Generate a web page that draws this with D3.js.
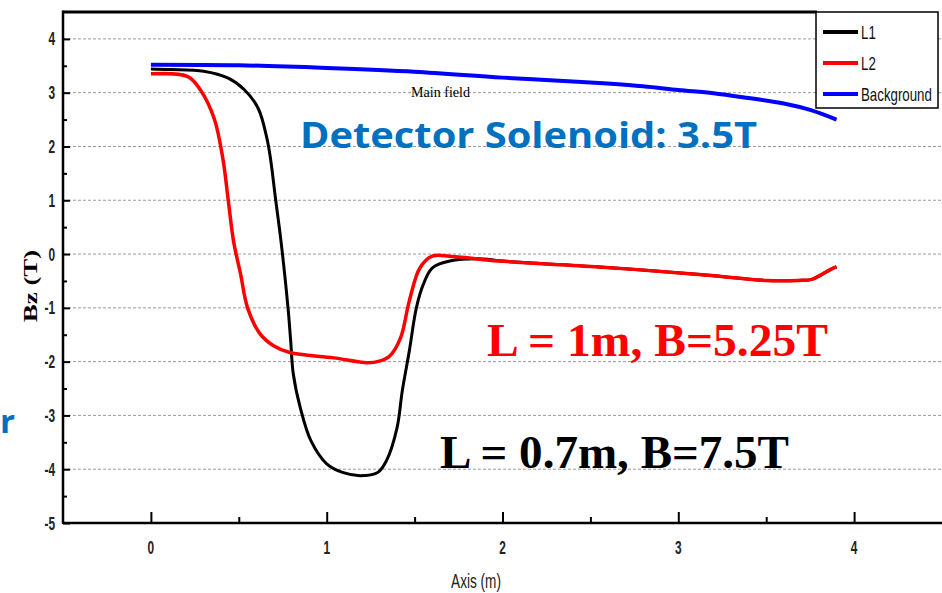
<!DOCTYPE html>
<html>
<head>
<meta charset="utf-8">
<script src="https://cdn.jsdelivr.net/npm/d3@7"></script>
<style>
  html, body { margin: 0; padding: 0; background: #fff; }
  svg { display: block; }
  .grid line { stroke: #9a9a9a; stroke-width: 1; stroke-dasharray: 3,2; }
  .tick-label { font-family: "Liberation Sans", Arial, sans-serif; font-weight: bold; font-size: 18px; fill: #222; }
  .legend-text { font-family: "Liberation Sans", Arial, sans-serif; font-size: 19px; fill: #111; }
</style>
</head>
<body>
<div class="chart-container"></div>
<script>
// Bz along the axis
var l1X = [0, 0.11, 0.30, 0.44, 0.53, 0.61, 0.66, 0.68, 0.71, 0.74, 0.78, 0.795, 0.81, 0.85, 0.91, 1.00, 1.09, 1.19, 1.29, 1.34, 1.40, 1.43, 1.47, 1.51, 1.55, 1.60, 1.70, 1.89, 2.0, 2.55, 3.12, 3.5, 3.68, 3.76, 3.87, 3.9];
var l1Y = [3.44, 3.43, 3.40, 3.27, 3.06, 2.71, 2.15, 1.78, 1.0, 0.24, -1.0, -1.61, -2.23, -2.86, -3.47, -3.90, -4.06, -4.12, -4.06, -3.84, -3.23, -2.54, -1.80, -1.0, -0.56, -0.26, -0.13, -0.09, -0.13, -0.24, -0.38, -0.49, -0.49, -0.47, -0.28, -0.24];

var l2X = [0, 0.21, 0.28, 0.36, 0.41, 0.44, 0.47, 0.51, 0.55, 0.62, 0.70, 0.79, 1.04, 1.23, 1.30, 1.36, 1.42, 1.47, 1.53, 1.60, 1.70, 1.80, 1.98, 2.55, 3.12, 3.5, 3.68, 3.76, 3.87, 3.9];
var l2Y = [3.35, 3.30, 3.06, 2.52, 1.76, 1.0, 0.24, -0.37, -1.0, -1.48, -1.71, -1.83, -1.93, -2.02, -1.99, -1.89, -1.56, -0.87, -0.26, -0.04, -0.04, -0.07, -0.13, -0.24, -0.38, -0.49, -0.49, -0.47, -0.28, -0.24];

var bgX = [0, 0.5, 1.0, 1.5, 2.0, 2.5, 2.8, 3.0, 3.2, 3.4, 3.6, 3.75, 3.9];
var bgY = [3.52, 3.51, 3.46, 3.39, 3.28, 3.19, 3.12, 3.05, 2.99, 2.90, 2.80, 2.68, 2.50];

var seriesNames = ['L1', 'L2', 'Background'];
var seriesColors = ['#000000', '#ff0000', '#0000ff'];

var xTicks = [0, 1, 2, 3, 4];
var xMinorTicks = [0.5, 1.5, 2.5, 3.5];
var yTicks = [-5, -4, -3, -2, -1, 0, 1, 2, 3, 4];
var yMinorTicks = [-4.5, -3.5, -2.5, -1.5, -0.5, 0.5, 1.5, 2.5, 3.5];

var width = 942;
var height = 593;
var plot = { left: 63, right: 942, top: 12, bottom: 523 };
var narrow = 0.66; // squeeze for the condensed labels

var svg = d3.select('.chart-container').append('svg')
  .attr('width', width)
  .attr('height', height);

var x = d3.scaleLinear().domain([-0.5, 4.5]).range([plot.left, plot.right]);
var y = d3.scaleLinear().domain([-5, 4.5]).range([plot.bottom, plot.top]);

// dashed gridlines at every integer except the bottom axis
svg.append('g')
  .attr('class', 'grid')
  .selectAll('line')
  .data(yTicks.filter(function (d) { return d > -5; }))
  .enter()
  .append('line')
    .attr('x1', plot.left)
    .attr('x2', plot.right)
    .attr('y1', function (d) { return y(d); })
    .attr('y2', function (d) { return y(d); });

// curves, drawn black first so red sits on top
function toPoints(xs, ys) {
  return xs.map(function (d, i) { return [d, ys[i]]; });
}
var seriesData = [toPoints(l1X, l1Y), toPoints(l2X, l2Y), toPoints(bgX, bgY)];
var seriesWidths = [3, 3.5, 4];

var line = d3.line()
  .x(function (d) { return x(d[0]); })
  .y(function (d) { return y(d[1]); })
  .curve(d3.curveCatmullRom.alpha(0.5));

svg.selectAll('.curve')
  .data(seriesData)
  .enter()
  .append('path')
    .attr('class', 'curve')
    .attr('fill', 'none')
    .attr('stroke', function (d, i) { return seriesColors[i]; })
    .attr('stroke-width', function (d, i) { return seriesWidths[i]; })
    .attr('stroke-linejoin', 'round')
    .attr('d', line);

// axes: ticks point inward
var yAxis = svg.append('g')
  .attr('transform', 'translate(' + plot.left + ',0)')
  .call(d3.axisRight(y).tickValues(yTicks).tickSize(7).tickFormat(''));
var yMinor = svg.append('g')
  .attr('transform', 'translate(' + plot.left + ',0)')
  .call(d3.axisRight(y).tickValues(yMinorTicks).tickSize(4).tickFormat(''));
var xAxis = svg.append('g')
  .attr('transform', 'translate(0,' + plot.bottom + ')')
  .call(d3.axisTop(x).tickValues(xTicks).tickSize(11).tickFormat(''));
var xMinor = svg.append('g')
  .attr('transform', 'translate(0,' + plot.bottom + ')')
  .call(d3.axisTop(x).tickValues(xMinorTicks).tickSize(6).tickFormat(''));

[yAxis, yMinor, xAxis, xMinor].forEach(function (g) {
  g.select('.domain').remove();
  g.selectAll('line').attr('stroke', '#000').attr('stroke-width', 2);
});

// frame lines
svg.append('line')
  .attr('x1', plot.left).attr('x2', plot.left)
  .attr('y1', plot.top - 1.5).attr('y2', plot.bottom + 1)
  .attr('stroke', '#000').attr('stroke-width', 2.5);
svg.append('line')
  .attr('x1', plot.left).attr('x2', plot.right)
  .attr('y1', plot.bottom).attr('y2', plot.bottom)
  .attr('stroke', '#000').attr('stroke-width', 2.5);
svg.append('line')
  .attr('x1', plot.left).attr('x2', 817)
  .attr('y1', plot.top).attr('y2', plot.top)
  .attr('stroke', '#000').attr('stroke-width', 3);

// tick labels
svg.selectAll('.ylab')
  .data(yTicks)
  .enter()
  .append('text')
    .attr('class', 'tick-label')
    .attr('text-anchor', 'end')
    .attr('transform', function (d) {
      return 'translate(' + (plot.left - 8) + ',' + (y(d) + 6.5) + ') scale(' + narrow + ',1)';
    })
    .text(function (d) { return d; });

svg.selectAll('.xlab')
  .data(xTicks)
  .enter()
  .append('text')
    .attr('class', 'tick-label')
    .attr('text-anchor', 'middle')
    .attr('transform', function (d) {
      return 'translate(' + x(d) + ',' + (plot.bottom + 31) + ') scale(' + narrow + ',1)';
    })
    .text(function (d) { return d; });

// axis titles
svg.append('text')
  .attr('transform', 'translate(37,286) rotate(-90) scale(1.5,1)')
  .attr('text-anchor', 'middle')
  .style('font-family', '"Liberation Serif", serif')
  .style('font-weight', 'bold')
  .style('font-size', '18px')
  .text('Bz (T)');

svg.append('text')
  .attr('transform', 'translate(476,588) scale(0.68,1)')
  .attr('text-anchor', 'middle')
  .style('font-family', '"Liberation Sans", Arial, sans-serif')
  .style('font-size', '20px')
  .style('fill', '#222')
  .text('Axis (m)');

// legend
var legend = svg.append('g');
legend.append('rect')
  .attr('x', 816).attr('y', 12)
  .attr('width', 122).attr('height', 96)
  .attr('fill', '#fff')
  .attr('stroke', '#000')
  .attr('stroke-width', 1.5);

var legendRows = legend.selectAll('.row')
  .data(seriesNames)
  .enter()
  .append('g')
    .attr('transform', function (d, i) { return 'translate(0,' + (32 + i * 31) + ')'; });
legendRows.append('line')
  .attr('x1', 823).attr('x2', 858)
  .attr('stroke', function (d, i) { return seriesColors[i]; })
  .attr('stroke-width', 4);
legendRows.append('text')
  .attr('class', 'legend-text')
  .attr('transform', 'translate(861,7) scale(0.7,1)')
  .text(function (d) { return d; });

// annotations
svg.append('text')
  .attr('x', 411).attr('y', 97)
  .style('font-family', '"Liberation Serif", serif')
  .style('font-size', '14px')
  .attr('textLength', 59)
  .attr('lengthAdjust', 'spacingAndGlyphs')
  .text('Main field');

svg.append('text')
  .attr('x', 300).attr('y', 148)
  .style('font-family', '"Open Sans", sans-serif')
  .style('font-weight', 'bold')
  .style('font-size', '35px')
  .attr('fill', '#0070c0')
  .attr('textLength', 457)
  .attr('lengthAdjust', 'spacingAndGlyphs')
  .text('Detector Solenoid: 3.5T');

svg.append('text')
  .attr('x', 487).attr('y', 356)
  .style('font-family', '"Liberation Serif", serif')
  .style('font-weight', 'bold')
  .style('font-size', '47px')
  .attr('fill', '#ff0000')
  .attr('textLength', 341)
  .attr('lengthAdjust', 'spacingAndGlyphs')
  .text('L = 1m, B=5.25T');

svg.append('text')
  .attr('x', 440).attr('y', 468)
  .style('font-family', '"Liberation Serif", serif')
  .style('font-weight', 'bold')
  .style('font-size', '47px')
  .attr('fill', '#000')
  .attr('textLength', 349)
  .attr('lengthAdjust', 'spacingAndGlyphs')
  .text('L = 0.7m, B=7.5T');

// slide text clipped at the left edge in the original
svg.append('text')
  .attr('x', 0).attr('y', 433)
  .style('font-family', '"Open Sans", sans-serif')
  .style('font-weight', 'bold')
  .style('font-size', '33px')
  .attr('fill', '#0070c0')
  .text('r');
</script>
</body>
</html>
